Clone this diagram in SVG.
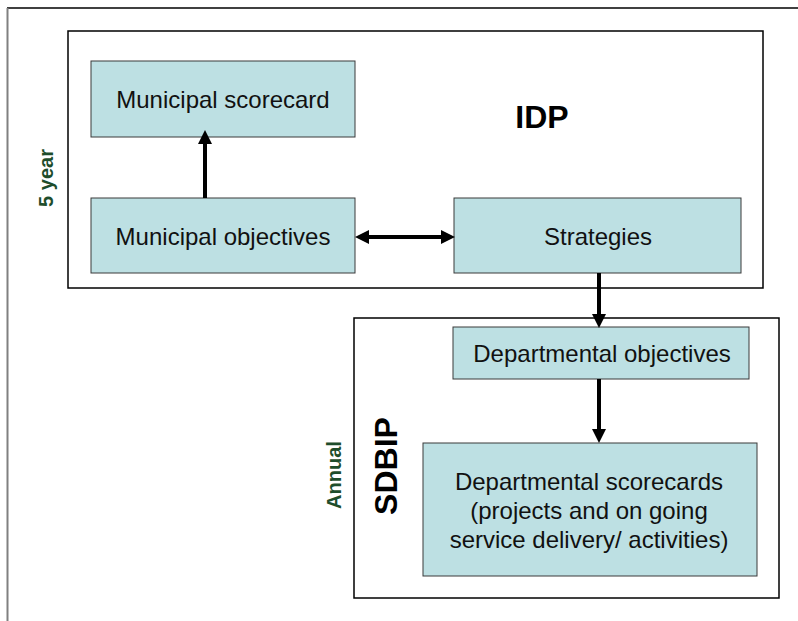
<svg xmlns="http://www.w3.org/2000/svg" width="798" height="621" viewBox="0 0 798 621">
<style>
  .frame { fill: none; stroke: #000; stroke-width: 1.5; }
  .box { fill: #BDE0E3; stroke: #3a3a3a; stroke-width: 1; }
  .lbl { font-family: "Liberation Sans", Arial, sans-serif; font-size: 24px; fill: #111; text-anchor: middle; }
  .title { font-family: "Liberation Sans", Arial, sans-serif; font-size: 32px; font-weight: bold; fill: #000; text-anchor: middle; }
  .period { font-family: "Liberation Sans", Arial, sans-serif; font-size: 20px; font-weight: bold; fill: #1E4D2B; text-anchor: middle; }
  .conn { stroke: #000; stroke-width: 4; fill: none; }
</style>
<defs>
  <marker id="ah" markerUnits="userSpaceOnUse" markerWidth="14" markerHeight="14" viewBox="0 0 14 14" refX="1" refY="7" orient="auto-start-reverse">
    <path d="M0,0 L14,7 L0,14 z" fill="#000"/>
  </marker>
</defs>
<rect width="798" height="621" fill="#fff"/>
<g id="page-frame">
  <line x1="7" y1="8" x2="798" y2="8" stroke="#000" stroke-width="1.5"/>
  <line x1="7.5" y1="8" x2="7.5" y2="621" stroke="#808080" stroke-width="2"/>
</g>
<g id="idp">
  <rect class="frame" x="68" y="31" width="695" height="257"/>
  <text class="title" x="542" y="128">IDP</text>
</g>
<g id="sdbip">
  <rect class="frame" x="354" y="318" width="425" height="280"/>
  <text class="title" transform="translate(397,466) rotate(-90)">SDBIP</text>
</g>
<g id="label-5year">
  <text class="period" transform="translate(53,178) rotate(-90)">5 year</text>
</g>
<g id="label-annual">
  <text class="period" transform="translate(341,475) rotate(-90)">Annual</text>
</g>
<g id="municipal-scorecard">
  <rect class="box" x="91" y="61" width="264" height="76"/>
  <text class="lbl" x="223" y="108">Municipal scorecard</text>
</g>
<g id="municipal-objectives">
  <rect class="box" x="91" y="198" width="264" height="75"/>
  <text class="lbl" x="223" y="245">Municipal objectives</text>
</g>
<g id="strategies">
  <rect class="box" x="454" y="198" width="287" height="75"/>
  <text class="lbl" x="598" y="245">Strategies</text>
</g>
<g id="departmental-objectives">
  <rect class="box" x="453" y="327" width="296" height="52"/>
  <text class="lbl" x="602" y="362">Departmental objectives</text>
</g>
<g id="departmental-scorecards">
  <rect class="box" x="423" y="443" width="334" height="133"/>
  <text class="lbl" x="589" y="490">Departmental scorecards</text>
  <text class="lbl" x="589" y="519">(projects and on going</text>
  <text class="lbl" x="589" y="548">service delivery/ activities)</text>
</g>
<g id="connectors">
  <line class="conn" x1="205" y1="198" x2="205" y2="143" marker-end="url(#ah)"/>
  <line class="conn" x1="368" y1="237" x2="442" y2="237" marker-start="url(#ah)" marker-end="url(#ah)"/>
  <line class="conn" x1="599" y1="273" x2="599" y2="315" marker-end="url(#ah)"/>
  <line class="conn" x1="599" y1="379" x2="599" y2="430" marker-end="url(#ah)"/>
</g>
</svg>
